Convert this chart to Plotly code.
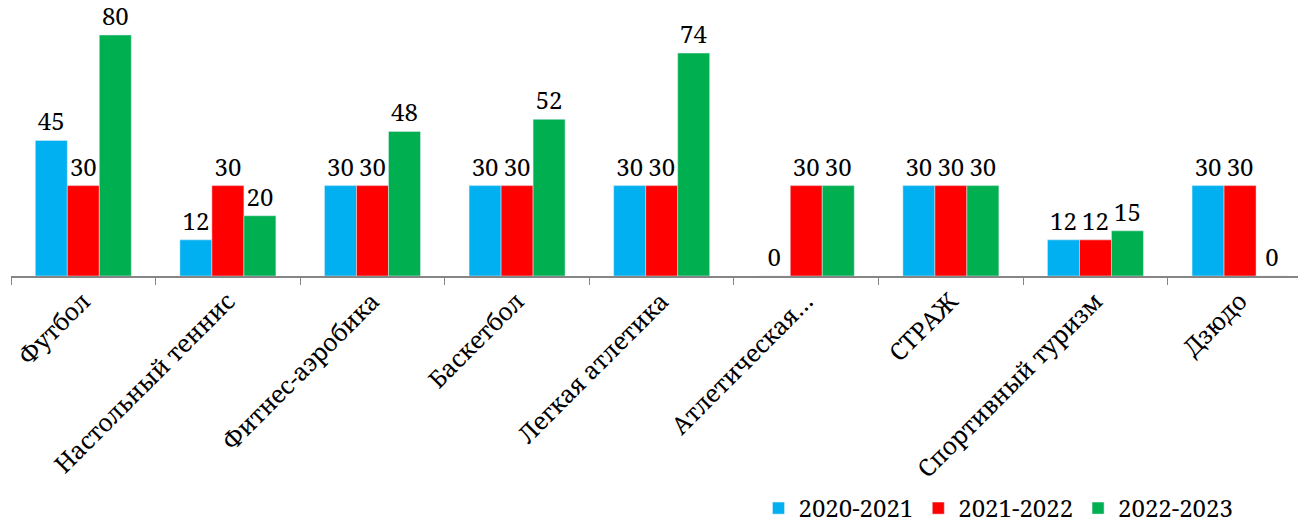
import plotly.graph_objects as go

categories = ["Футбол", "Настольный теннис", "Фитнес-аэробика", "Баскетбол",
              "Легкая атлетика", "Атлетическая…", "СТРАЖ", "Спортивный туризм", "Дзюдо"]
s2020 = [45, 12, 30, 30, 30, 0, 30, 12, 30]
s2021 = [30, 30, 30, 30, 30, 30, 30, 12, 30]
s2022 = [80, 20, 48, 52, 74, 30, 30, 15, 0]
series_names = ["2020-2021", "2021-2022", "2022-2023"]
colors = ["#00B0F0", "#FF0000", "#00B050"]

FONT = "Noto Serif, DejaVu Serif"

fig = go.Figure()
for name, vals, c in zip(series_names, [s2020, s2021, s2022], colors):
    fig.add_trace(go.Bar(
        x=categories, y=vals, name=name, marker_color=c,
        text=[str(v) for v in vals], textposition="outside",
        textfont=dict(family=FONT, size=24, color="black"),
        cliponaxis=False,
    ))

fig.update_layout(
    width=1298, height=516,
    margin=dict(l=3, r=0, t=20, b=248, autoexpand=False),
    plot_bgcolor="white", paper_bgcolor="white",
    barmode="group", bargap=0.336, bargroupgap=0,
    font=dict(family=FONT, size=24, color="black"),
    showlegend=True,
    legend=dict(orientation="h", xref="container", yref="container",
                x=0.948, xanchor="right", y=0.03, yanchor="middle",
                font=dict(family=FONT, size=24, color="black"),
                itemwidth=30, traceorder="normal"),
    xaxis=dict(range=[-0.5, 8.456], showline=True, linecolor="#868686", linewidth=1.5,
               ticks="outside", tickson="boundaries", ticklen=7, tickcolor="#868686",
               automargin=False,
               tickangle=-45, tickfont=dict(family=FONT, size=24, color="black")),
    yaxis=dict(range=[0, 82.32], visible=False, showgrid=False, zeroline=False),
)
fig.write_html("out.html")
